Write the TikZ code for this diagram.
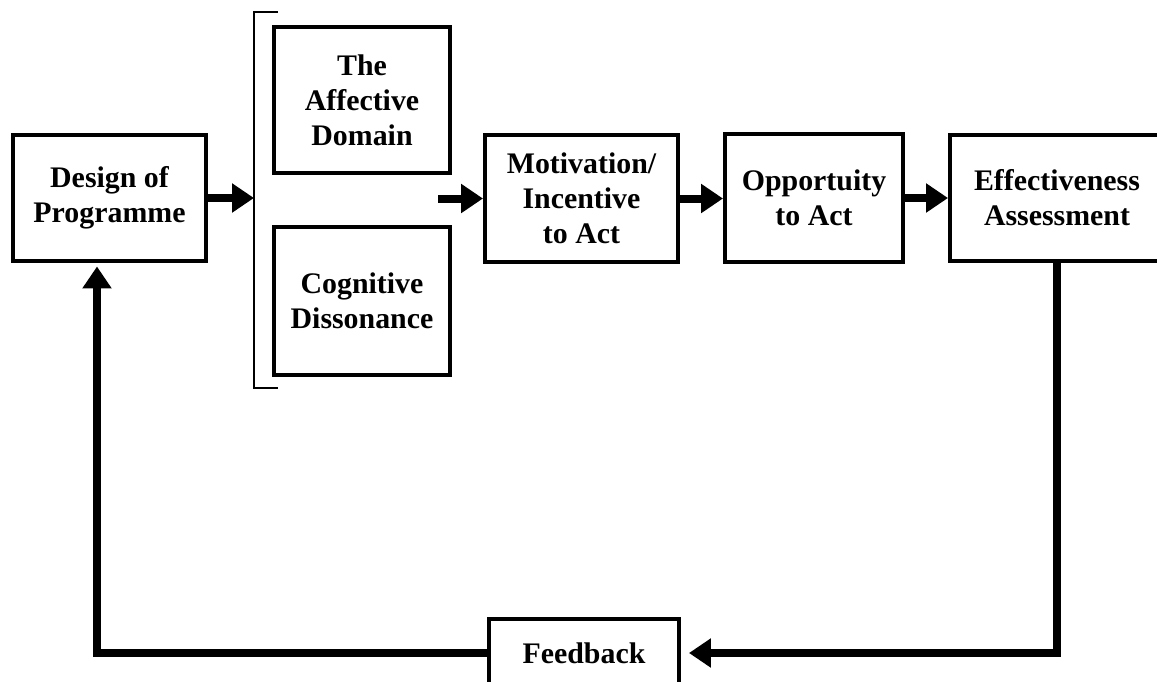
\documentclass[tikz,border=0pt]{standalone}
\usepackage{fontspec}
\setmainfont{Liberation Serif}
\usetikzlibrary{arrows.meta}
\begin{document}
\begin{tikzpicture}[x=0.02cm,y=-0.02cm,
  box/.style={draw,line width=0.08cm,align=center,inner sep=0pt,
    font=\fontsize{17}{20}\selectfont\bfseries},
  flow/.style={line width=0.16cm,-{Triangle[length=0.44cm,width=0.56cm]}},
  bracketline/.style={line width=0.05cm}]
\useasboundingbox (0,0) rectangle (1157,681);
\node[box,minimum width=3.86cm,minimum height=2.54cm] (design) at (109.5,198) {Design of\\Programme};
\node[box,minimum width=3.52cm,minimum height=2.92cm] (affect) at (362,100) {The\\Affective\\Domain};
\node[box,minimum width=3.52cm,minimum height=2.96cm] (cogn) at (362,301) {Cognitive\\Dissonance};
\node[box,minimum width=3.86cm,minimum height=2.54cm] (motiv) at (581.5,198.5) {Motivation/\\Incentive\\to Act};
\node[box,minimum width=3.56cm,minimum height=2.56cm] (oppo) at (814,198) {Opportuity\\to Act};
\node[box,minimum width=4.28cm,minimum height=2.52cm] (effect) at (1057,198) {Effectiveness\\Assessment};
\node[box,minimum width=3.80cm,minimum height=1.36cm] (feedback) at (584,653) {Feedback};
% bracket
\draw[bracketline] (278,12) -- (254,12) -- (254,388) -- (278,388);
\coordinate (brk) at (254,198);
\coordinate (brkout) at (438,198.5);
\coordinate (fbl) at (97,653);
\draw[flow] (design.east) -- (design.east -| brk);
\draw[flow] (brkout) -- (motiv.west);
\draw[flow] (motiv.east) -- (motiv.east -| oppo.west);
\draw[flow] (oppo.east) -- (effect.west);
\draw[flow,shorten >=0.16cm] (effect.south) |- (feedback.east);
\draw[flow,shorten >=0.06cm] (feedback.west) -- (fbl) -- (fbl |- design.south);
\end{tikzpicture}
\end{document}
